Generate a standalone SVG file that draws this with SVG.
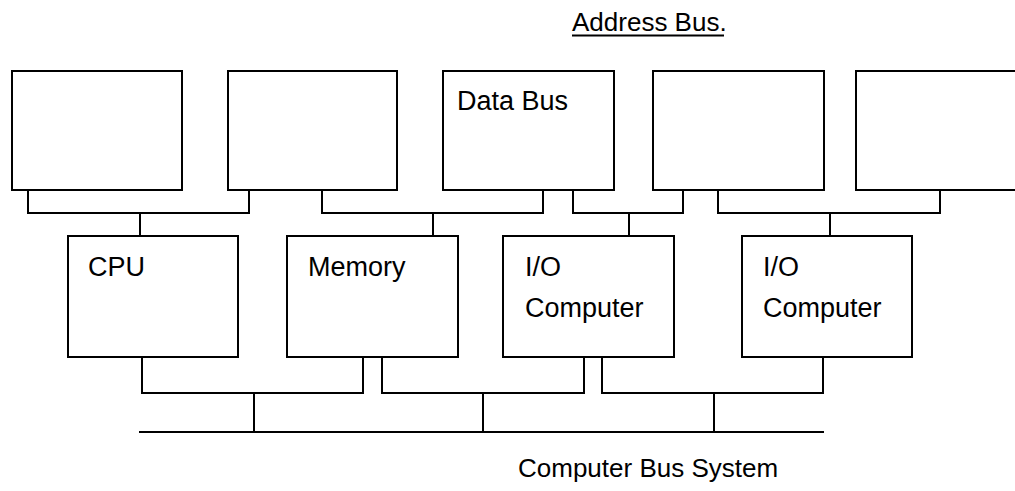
<svg xmlns="http://www.w3.org/2000/svg" width="1015" height="491" viewBox="0 0 1015 491">
<style>
.box{fill:#fff;stroke:#000;stroke-width:2}
.ln{fill:none;stroke:#000;stroke-width:2}
.t{font-family:"Liberation Sans",Arial,sans-serif;font-size:27px;fill:#000}
.t2{font-family:"Liberation Sans",Arial,sans-serif;font-size:26px;fill:#000}
</style>
<rect width="1015" height="491" fill="#fff"/>
<g id="connectors">
<polyline class="ln" points="28,190 28,213 249,213 249,190"/>
<line class="ln" x1="140" y1="213" x2="140" y2="236"/>
<polyline class="ln" points="322,190 322,213 543,213 543,190"/>
<line class="ln" x1="433" y1="213" x2="433" y2="236"/>
<polyline class="ln" points="573,190 573,213 683,213 683,190"/>
<line class="ln" x1="629" y1="213" x2="629" y2="236"/>
<polyline class="ln" points="718,190 718,213 940,213 940,190"/>
<line class="ln" x1="830" y1="213" x2="830" y2="236"/>
<polyline class="ln" points="142,357 142,393 363,393 363,357"/>
<line class="ln" x1="254" y1="393" x2="254" y2="432"/>
<polyline class="ln" points="382,357 382,393 584,393 584,357"/>
<line class="ln" x1="483" y1="393" x2="483" y2="432"/>
<polyline class="ln" points="602,357 602,393 823,393 823,357"/>
<line class="ln" x1="714" y1="393" x2="714" y2="432"/>
<line class="ln" x1="139" y1="432" x2="824" y2="432"/>
</g>
<g id="address-bus-label">
<text class="t2" x="572" y="31">Address Bus.</text>
<line x1="572" y1="35.5" x2="724" y2="35.5" stroke="#000" stroke-width="2"/>
</g>
<g id="top1"><rect class="box" x="12" y="71" width="170" height="119"/></g>
<g id="top2"><rect class="box" x="228" y="71" width="169" height="119"/></g>
<g id="top3"><rect class="box" x="443" y="71" width="171" height="119"/><text class="t" x="457" y="110">Data Bus</text></g>
<g id="top4"><rect class="box" x="653" y="71" width="171" height="119"/></g>
<g id="top5"><rect class="box" x="856" y="71" width="170" height="119"/></g>
<g id="cpu"><rect class="box" x="68" y="236" width="170" height="121"/><text class="t" x="88" y="276">CPU</text></g>
<g id="memory"><rect class="box" x="287" y="236" width="171" height="121"/><text class="t" x="308" y="276">Memory</text></g>
<g id="io1"><rect class="box" x="503" y="236" width="171" height="121"/><text class="t" x="525" y="276">I/O</text><text class="t" x="525" y="317">Computer</text></g>
<g id="io2"><rect class="box" x="742" y="236" width="170" height="121"/><text class="t" x="763" y="276">I/O</text><text class="t" x="763" y="317">Computer</text></g>
<g id="bus-label"><text class="t2" x="518" y="477">Computer Bus System</text></g>
</svg>
